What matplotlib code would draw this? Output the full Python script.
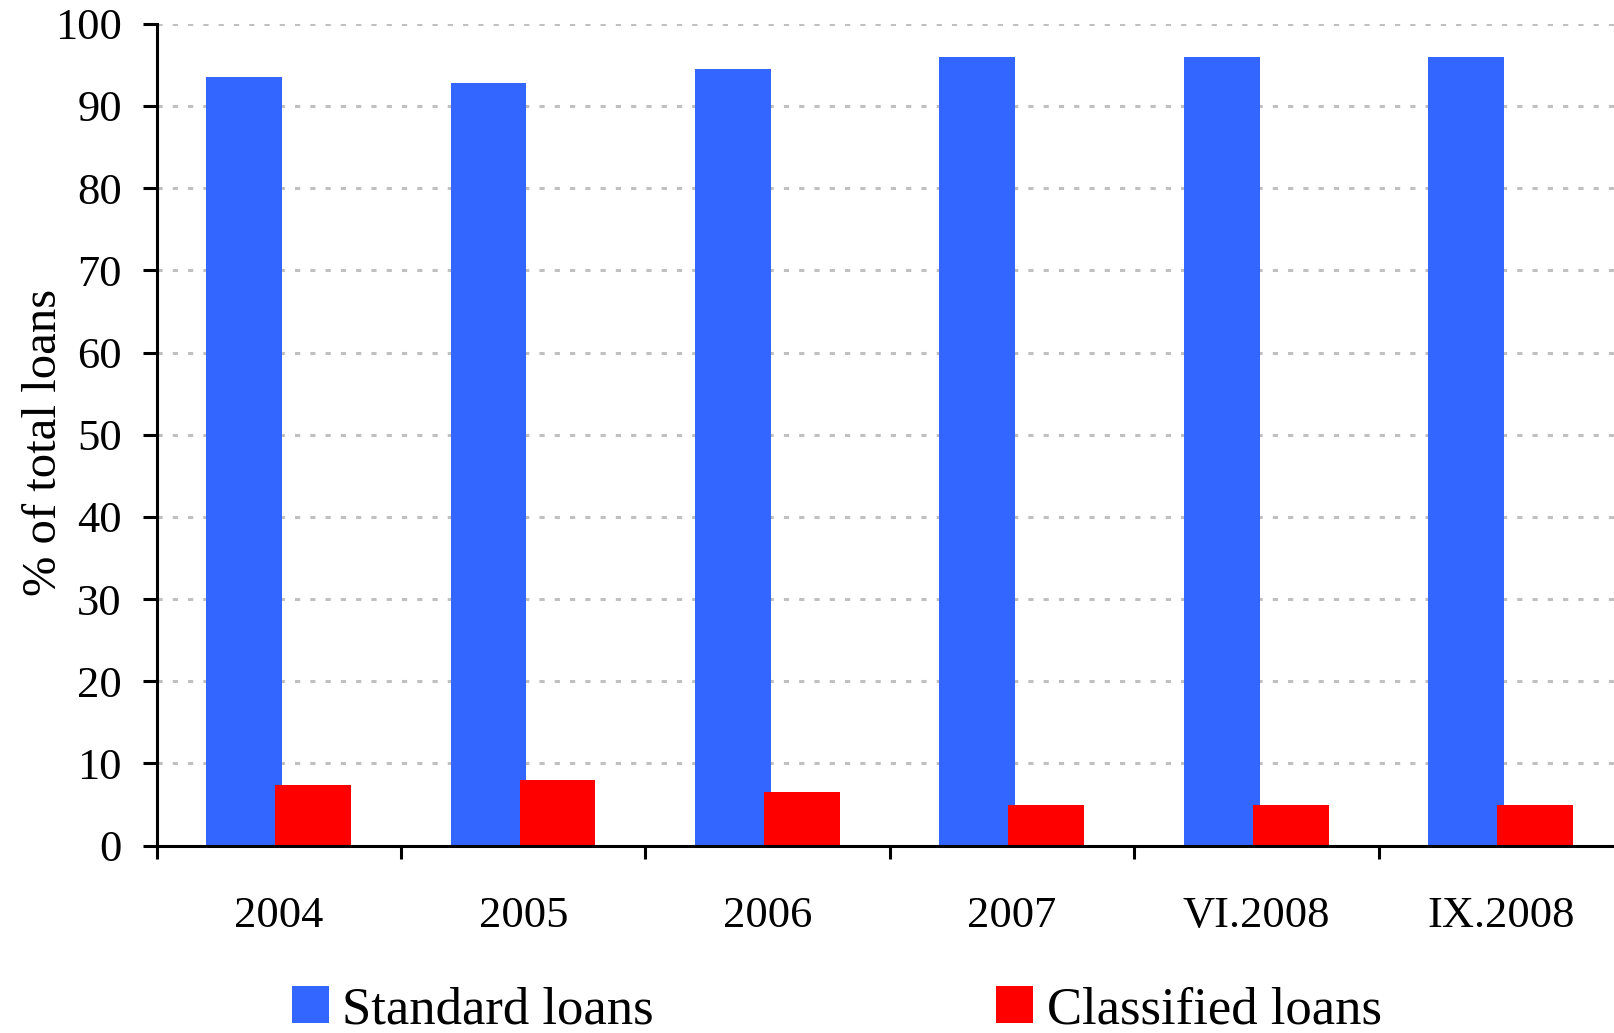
import numpy as np
import matplotlib
matplotlib.use("Agg")
import matplotlib.pyplot as plt

plt.rcParams['font.family'] = ['Liberation Serif', 'DejaVu Serif']

categories = ["2004", "2005", "2006", "2007", "VI.2008", "IX.2008"]
standard = [93.5, 92.8, 94.5, 96.0, 96.0, 96.0]
classified = [7.4, 8.0, 6.5, 5.0, 5.0, 5.0]
yticks = [0, 10, 20, 30, 40, 50, 60, 70, 80, 90, 100]

blue = "#3366FF"
red = "#FF0000"

fig = plt.figure(figsize=(16.15, 10.33), dpi=100)
ax = fig.add_axes([0.097, 0.1814, 0.908, 0.7956])

x = np.arange(len(categories))
w = 0.31
ax.bar(x - 0.142, standard, w, color=blue, zorder=2, label="Standard loans")
ax.bar(x + 0.14, classified, w, color=red, zorder=3, label="Classified loans")

ax.set_xlim(-0.5, len(categories) - 0.5)
ax.set_ylim(0, 100)
ax.set_yticks(yticks)
ax.yaxis.grid(True, color="#C0C0C0", linewidth=2.2, dashes=(1.7, 3.3), zorder=0)
ax.set_axisbelow(True)

# boundary ticks as major, labels centred as minor
ax.set_xticks(np.arange(len(categories) + 1) - 0.5)
ax.set_xticklabels([])
ax.set_xticks(x, minor=True)
ax.set_xticklabels(categories, minor=True)
ax.tick_params(axis="x", which="major", direction="out", length=9, width=2.2)
ax.tick_params(axis="x", which="minor", length=0, pad=36, labelsize=32)
ax.tick_params(axis="y", direction="out", length=10, width=2.2, pad=15, labelsize=32)

for s in ["top", "right"]:
    ax.spines[s].set_visible(False)
for s in ["left", "bottom"]:
    ax.spines[s].set_linewidth(2.2)
ax.spines["bottom"].set_zorder(4)

ax.set_ylabel("% of total loans", fontsize=35)
ax.yaxis.set_label_coords(-0.062, 0.49)

fig.legend(loc="center", bbox_to_anchor=(0.518, 0.022), ncol=2, frameon=False,
           fontsize=38, handlelength=0.7, handleheight=0.7, handletextpad=0.25,
           columnspacing=6.5, borderpad=0, borderaxespad=0)

fig.savefig("out.png", dpi=100)
